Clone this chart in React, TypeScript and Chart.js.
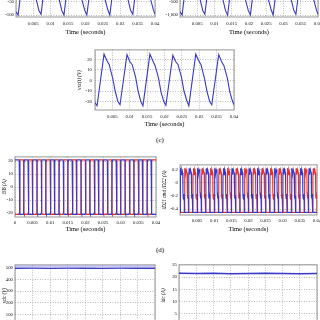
import React, { useEffect, useRef } from "react";
import { Chart, registerables } from "chart.js";
Chart.register(...registerables);
Chart.defaults.font.family = "'Liberation Serif', 'DejaVu Serif', serif";

// ---- ticks ----
const timeTicks = [0, 0.005, 0.01, 0.015, 0.02, 0.025, 0.03, 0.035, 0.04];
const aTicks = [-100, -50, 0, 50, 100];
const bTicks = [-1000, -500, 0, 500, 1000];
const vscTicks = [-20, -10, 0, 10, 20];
const isbTicks = [-20, -10, 0, 10, 20];
const idTicks = [-0.4, -0.2, 0, 0.2];
const vdcTicks = [100, 200, 300, 400, 500];
const idcTicks = [5, 10, 15, 20, 25];

// ---- (a), (b), (c): periodic voltages (same time base) ----
const waveTime = [
  0, 0.0006, 0.0026, 0.0034, 0.0041, 0.0051, 0.0058, 0.0066,
  0.0072, 0.0092, 0.01, 0.0107, 0.0117, 0.0124, 0.0132,
  0.0138, 0.0158, 0.0166, 0.0173, 0.0183, 0.019, 0.0198,
  0.0204, 0.0224, 0.0232, 0.0239, 0.0249, 0.0256, 0.0264,
  0.027, 0.029, 0.0298, 0.0305, 0.0315, 0.0322, 0.033,
  0.0336, 0.0356, 0.0364, 0.0371, 0.0381, 0.0388, 0.0396,
  0.04,
];
const vscValues = [
  -21, -24, 25, 19, 15, 2, -10, -20,
  -23, 24.5, 18, 15, 3, -10, -20,
  -24, 25, 19, 14, 2, -11, -20,
  -23.5, 24, 18, 15, 3, -10, -19,
  -24, 25, 19, 15, 2, -10, -20,
  -23, 24.5, 18, 14, 2, -11, -20,
  -23,
];
const aValues = [
  -88, -100, 105, 80, 63, 8, -42, -84,
  -97, 103, 76, 63, 13, -42, -84,
  -100, 105, 80, 59, 8, -46, -84,
  -99, 101, 76, 63, 13, -42, -80,
  -100, 105, 80, 63, 8, -42, -84,
  -97, 103, 76, 59, 8, -46, -84,
  -96,
];
const bValues = [
  -880, -1000, 1050, 800, 630, 80, -420, -840,
  -970, 1030, 760, 630, 130, -420, -840,
  -1000, 1050, 800, 590, 80, -460, -840,
  -990, 1010, 760, 630, 130, -420, -800,
  -1000, 1050, 800, 630, 80, -420, -840,
  -970, 1030, 760, 590, 80, -460, -840,
  -960,
];

// ---- (d) left: switch currents, switching instants ----
const isbEdges = [
  0.00125, 0.0025, 0.00375, 0.005, 0.00625, 0.0075, 0.00875, 0.01,
  0.01125, 0.0125, 0.01375, 0.015, 0.01625, 0.0175, 0.01875, 0.02,
  0.02125, 0.0225, 0.02375, 0.025, 0.02625, 0.0275, 0.02875, 0.03,
  0.03125, 0.0325, 0.03375, 0.035, 0.03625, 0.0375, 0.03875,
];
const isbLevel = 21;
const isbCorner = 20; // rounded corner level just before each switching edge

// ---- (d) right: diode currents, one-period shape + cycle starts ----
const iDShapeOffset = [0, 0.00006, 0.0002, 0.00035, 0.00055, 0.0008, 0.00086, 0.00095, 0.00105, 0.00115, 0.00122, 0.00127];
const iDShapeValue = [-0.45, 0.12, 0.22, 0.12, 0.2, 0.15, -0.15, -0.24, -0.17, -0.22, -0.2, -0.45];
const iD21Starts = [0, 0.0025, 0.005, 0.0075, 0.01, 0.0125, 0.015, 0.0175, 0.02, 0.0225, 0.025, 0.0275, 0.03, 0.0325, 0.035, 0.0375];
const iD22Starts = [0.00125, 0.00375, 0.00625, 0.00875, 0.01125, 0.01375, 0.01625, 0.01875, 0.02125, 0.02375, 0.02625, 0.02875, 0.03125, 0.03375, 0.03625, 0.03875];

// ---- (e): dc quantities ----
const dcTime = [0, 0.005, 0.01, 0.015, 0.02, 0.025, 0.03, 0.035, 0.04];
const vdcValues = [495, 496, 494, 496, 495, 494, 496, 495, 495];
const idcValues = [21.6, 21.5, 21.6, 21.4, 21.5, 21.6, 21.5, 21.4, 21.5];

const BLUE = "#3838cc";
const RED = "#e4302c";

const pts = (xs: number[], ys: number[]) => xs.map((x, i) => ({ x, y: ys[i] }));

function squareWave(startHigh: boolean) {
  let lvl = startHigh ? isbLevel : -isbLevel;
  const out = [{ x: 0, y: lvl }];
  for (const e of isbEdges) {
    const s = Math.sign(lvl);
    out.push({ x: e - 0.00016, y: lvl });
    out.push({ x: e - 0.00006, y: s * isbCorner });
    lvl = -lvl;
    out.push({ x: e + 0.00006, y: -s * isbCorner });
    out.push({ x: e + 0.00016, y: lvl });
  }
  out.push({ x: 0.04, y: lvl });
  return out;
}

function diodeWave(starts: number[]) {
  const out: { x: number; y: number }[] = [];
  if (starts[0] > 0) out.push({ x: 0, y: iDShapeValue[iDShapeValue.length - 1] });
  for (const s of starts) {
    iDShapeOffset.forEach((o, i) => {
      if (s + o <= 0.04) out.push({ x: s + o, y: iDShapeValue[i] });
    });
  }
  out.push({ x: 0.04, y: iDShapeValue[iDShapeValue.length - 1] });
  return out;
}

const framePlugin = {
  id: "frame",
  beforeDatasetsDraw(chart: any) {
    const { ctx, chartArea: a } = chart;
    ctx.save();
    ctx.strokeStyle = "#8c8c8c";
    ctx.lineWidth = 0.9;
    ctx.strokeRect(a.left, a.top, a.right - a.left, a.bottom - a.top);
    ctx.restore();
  },
};

type PanelProps = {
  left: number; right: number; top: number; bottom: number;
  yW: number; xH: number;
  yMin: number; yMax: number; yTicks: number[];
  yTitle?: string; showZero?: boolean;
  datasets: any[];
  yPad?: number; xPad?: number;
};

function fmtX(v: number) {
  return String(Number(v.toFixed(3)));
}

function Panel(p: PanelProps) {
  const ref = useRef<HTMLCanvasElement>(null);
  const padTop = 4, padRight = 8;
  const plotW = p.right - p.left, plotH = p.bottom - p.top;
  const w = p.yW + plotW + padRight;
  const h = padTop + plotH + p.xH;
  useEffect(() => {
    const gridOpts = { color: "#9c9c9c", lineWidth: 0.7, drawTicks: false };
    const chart = new Chart(ref.current as HTMLCanvasElement, {
      type: "line",
      data: { datasets: p.datasets },
      options: {
        animation: false,
        responsive: false,
        devicePixelRatio: 1,
        layout: { padding: { top: padTop, right: padRight, left: 0, bottom: 0 } },
        plugins: { legend: { display: false }, tooltip: { enabled: false } },
        elements: { point: { radius: 0 }, line: { tension: 0 } },
        scales: {
          x: {
            type: "linear",
            min: 0,
            max: 0.04,
            afterFit: (s: any) => { s.height = p.xH; },
            afterBuildTicks: (s: any) => { s.ticks = timeTicks.map((v) => ({ value: v })); },
            ticks: {
              padding: p.xPad ?? 3.5,
              font: { size: 4.8 },
              color: "#111",
              maxRotation: 0,
              autoSkip: false,
              callback: (v: any) => (v === 0 && !p.showZero ? "" : fmtX(Number(v))),
            },
            grid: gridOpts,
            border: { display: false, dash: [1, 1.5] },
            title: { display: true, text: "Time (seconds)", padding: 0, font: { size: 6.5 }, color: "#000" },
          },
          y: {
            type: "linear",
            min: p.yMin,
            max: p.yMax,
            afterFit: (s: any) => { s.width = p.yW; },
            afterBuildTicks: (s: any) => { s.ticks = p.yTicks.map((v) => ({ value: v })); },
            ticks: { padding: p.yPad ?? 2, font: { size: 4.8 }, color: "#111", autoSkip: false },
            grid: gridOpts,
            border: { display: false, dash: [1, 1.5] },
            title: {
              display: !!p.yTitle,
              text: p.yTitle || "",
              padding: 0,
              font: { size: 5.2, style: "italic" },
              color: "#000",
            },
          },
        },
      },
      plugins: [framePlugin],
    } as any);
    return () => chart.destroy();
  }, []);
  return (
    <canvas
      ref={ref}
      width={w}
      height={h}
      style={{ position: "absolute", left: p.left - p.yW, top: p.top - padTop, width: w, height: h }}
    />
  );
}

const lineDs = (data: any[], color: string, extra: any = {}) => ({
  data,
  borderColor: color,
  borderWidth: 1.1,
  pointRadius: 0,
  fill: false,
  ...extra,
});

export default function App() {
  const labelStyle: React.CSSProperties = {
    position: "absolute",
    left: 0,
    width: 320,
    textAlign: "center",
    fontFamily: "'Liberation Serif', serif",
    fontSize: 7,
    lineHeight: "8px",
    color: "#000",
  };
  return (
    <div style={{ position: "absolute", left: 0, top: 0, width: 320, height: 320, overflow: "hidden", background: "#fff" }}>
      <Panel left={16} right={155} top={-43} bottom={17} yW={16} xH={19} yMin={-107} yMax={107} yTicks={aTicks}
        datasets={[lineDs(pts(waveTime, aValues), BLUE)]} />
      <Panel left={180} right={318} top={-43} bottom={17} yW={20} xH={19} yMin={-1070} yMax={1070} yTicks={bTicks}
        datasets={[lineDs(pts(waveTime, bValues), BLUE)]} />
      <Panel left={95} right={234} top={48} bottom={110} yW={18} xH={18} yMin={-28} yMax={29} yTicks={vscTicks}
        yPad={3} yTitle="vsc(t) (V)" datasets={[lineDs(pts(waveTime, vscValues), BLUE)]} />
      <div style={{ ...labelStyle, top: 136 }}>(c)</div>
      <Panel left={15} right={156} top={156} bottom={217} yW={13} xH={16} yMin={-23} yMax={23.3} yTicks={isbTicks}
        xPad={2.5} showZero yTitle="iSB (A)"
        datasets={[lineDs(squareWave(true), BLUE), lineDs(squareWave(false), RED)]} />
      <Panel left={180} right={317} top={164} bottom={215} yW={18} xH={18} yMin={-0.49} yMax={0.27} yTicks={idTicks}
        xPad={2.5} yTitle="iD21 and iD22 (A)"
        datasets={[lineDs(diodeWave(iD21Starts), BLUE), lineDs(diodeWave(iD22Starts), RED)]} />
      <div style={{ ...labelStyle, top: 246 }}>(d)</div>
      <Panel left={15} right={155} top={264} bottom={326} yW={13} xH={16} yMin={0} yMax={525} yTicks={vdcTicks}
        yTitle="vdc (V)"
        datasets={[lineDs(pts(dcTime, vdcValues), BLUE, { fill: "end", backgroundColor: "rgba(150,150,235,0.5)" })]} />
      <Panel left={179} right={317} top={264} bottom={326} yW={18} xH={16} yMin={0} yMax={25} yTicks={idcTicks}
        yTitle="idc (A)"
        datasets={[lineDs(pts(dcTime, idcValues), BLUE, { borderWidth: 1.4 })]} />
    </div>
  );
}
